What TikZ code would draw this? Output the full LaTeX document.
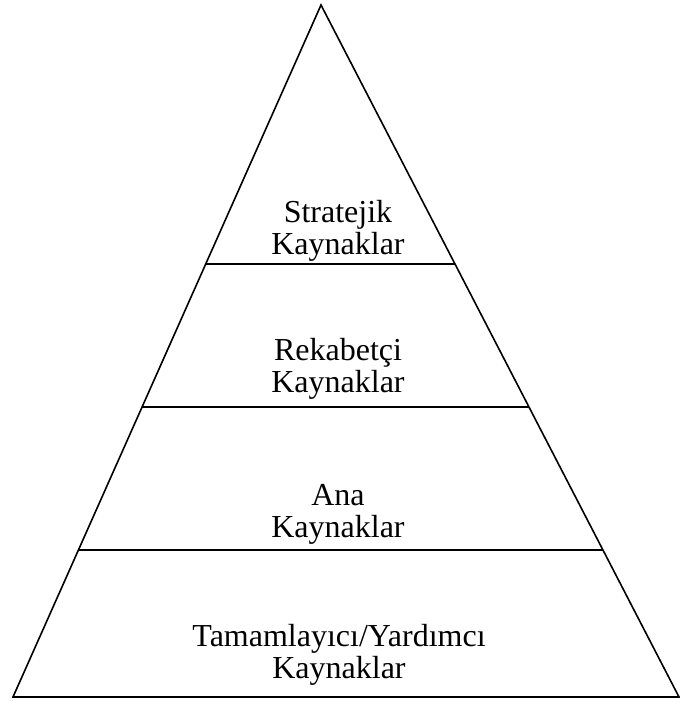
\documentclass[tikz,border=0pt]{standalone}
\usepackage{fontspec}
\setmainfont{Liberation Serif}
\usepackage{tikz}
\usetikzlibrary{calc}

\begin{document}
\begin{tikzpicture}[x=1pt,y=-1pt,
	tier/.style={align=center,font=\fontsize{32}{32}\selectfont}]
	\useasboundingbox (0,0) rectangle (680,702);
	% corners of the pyramid
	\coordinate (apex) at (321,5);
	\coordinate (bl) at (13,697);
	\coordinate (br) at (679,697);
	\draw[line width=1.6pt,line join=miter] (apex) -- (bl) -- (br) -- cycle;
	% dividing lines
	\coordinate (l1) at ($(apex)!0.3743!(bl)$);
	\coordinate (r1) at ($(apex)!0.3743!(br)$);
	\coordinate (l2) at ($(apex)!0.5809!(bl)$);
	\coordinate (r2) at ($(apex)!0.5809!(br)$);
	\coordinate (l3) at ($(apex)!0.7876!(bl)$);
	\coordinate (r3) at ($(apex)!0.7876!(br)$);
	\draw[line width=1.4pt] (l1) -- (r1);
	\draw[line width=1.4pt] (l2) -- (r2);
	\draw[line width=1.4pt] (l3) -- (r3);
	\node[tier] (strat) at (338,231) {Stratejik\\Kaynaklar};
	\node[tier] (rekab) at (338,369) {Rekabetçi\\Kaynaklar};
	\node[tier] (ana) at (338,514) {Ana\\Kaynaklar};
	\node[tier] (tamam) at (339,655) {Tamamlayıcı/Yardımcı\\Kaynaklar};
\end{tikzpicture}
\end{document}
